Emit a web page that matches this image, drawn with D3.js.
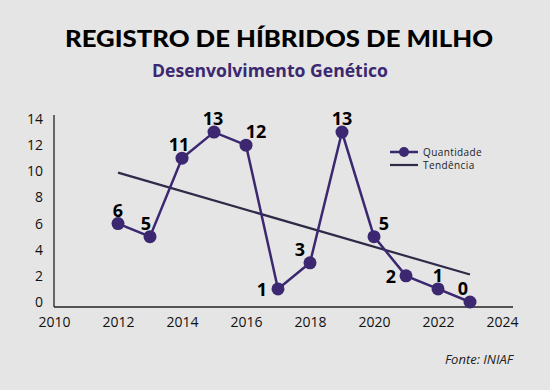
<!DOCTYPE html>
<html>
<head>
<meta charset="utf-8">
<script src="https://cdn.jsdelivr.net/npm/d3@7"></script>
<style>
  body { margin: 0; background: #e5e5e5; }
  svg { display: block; }
</style>
</head>
<body>
<div id="chart"></div>
<script>
// data
var years = [2012, 2013, 2014, 2015, 2016, 2017, 2018, 2019, 2020, 2021, 2022, 2023];
var quantidade = [6, 5, 11, 13, 12, 1, 3, 13, 5, 2, 1, 0];
var trendYears = [2012, 2023];
var trendValues = [9.9, 2.1];
var xTicks = [2010, 2012, 2014, 2016, 2018, 2020, 2022, 2024];
var yTicks = [0, 2, 4, 6, 8, 10, 12, 14];

// label offsets (dx, dy) relative to each point
var labelOffsets = [[0, -14], [-4, -14], [-3, -14], [-1, -14], [10, -14], [-16, 0], [-10, -14], [0, -14], [10, -14], [-15, 0], [0, -14], [-7, -14]];

var width = 550, height = 390;
var purple = "#3b2870";

var svg = d3.select("#chart")
  .append("svg")
    .attr("width", width)
    .attr("height", height);

svg.append("rect")
  .attr("width", width).attr("height", height)
  .attr("fill", "#e5e5e5");

// titles
svg.append("text")
  .attr("x", 279).attr("y", 47)
  .attr("text-anchor", "middle")
  .attr("font-family", "Lato, sans-serif")
  .attr("font-weight", 900)
  .attr("font-size", 23)
  .attr("fill", "#000")
  .attr("textLength", 428)
  .attr("lengthAdjust", "spacingAndGlyphs")
  .text("REGISTRO DE HÍBRIDOS DE MILHO");

svg.append("text")
  .attr("x", 270).attr("y", 77)
  .attr("text-anchor", "middle")
  .attr("font-family", "'Open Sans', sans-serif")
  .attr("font-weight", 700)
  .attr("font-size", 17)
  .attr("fill", purple)
  .attr("textLength", 236)
  .attr("lengthAdjust", "spacingAndGlyphs")
  .text("Desenvolvimento Genético");

var x = d3.scaleLinear()
  .domain([2010, 2024])
  .range([54, 502]);

var y = d3.scaleLinear()
  .domain([0, 14])
  .range([302, 119]);

var tickFont = "'Open Sans', sans-serif";

// axes
var xAxis = svg.append("g")
  .attr("transform", "translate(0,307)")
  .call(d3.axisBottom(x).tickValues(xTicks).tickFormat(d3.format("d")).tickSize(0).tickPadding(10));
xAxis.select(".domain").attr("d", "M54,0H513").attr("stroke", "#222").attr("stroke-width", 1.3);
xAxis.selectAll("text").attr("font-family", tickFont).attr("font-size", 14).attr("fill", "#111");

var yAxis = svg.append("g")
  .attr("transform", "translate(54,0)")
  .call(d3.axisLeft(y).tickValues(yTicks).tickSize(0).tickPadding(11));
yAxis.select(".domain").attr("d", "M0,115V307").attr("stroke", "#222").attr("stroke-width", 1.3);
yAxis.selectAll("text").attr("font-family", tickFont).attr("font-size", 14).attr("fill", "#111");

// trend line
var trend = trendYears.map(function(d, i) { return [d, trendValues[i]]; });
svg.append("path")
  .datum(trend)
  .attr("fill", "none")
  .attr("stroke", "#2e2a48")
  .attr("stroke-width", 2.2)
  .attr("d", d3.line().x(function(d) { return x(d[0]); }).y(function(d) { return y(d[1]); }));

// series
var series = years.map(function(d, i) { return { year: d, value: quantidade[i], off: labelOffsets[i] }; });

svg.append("path")
  .datum(series)
  .attr("fill", "none")
  .attr("stroke", purple)
  .attr("stroke-width", 2.5)
  .attr("d", d3.line().x(function(d) { return x(d.year); }).y(function(d) { return y(d.value); }));

svg.selectAll("circle.pt")
  .data(series)
  .enter().append("circle")
    .attr("class", "pt")
    .attr("cx", function(d) { return x(d.year); })
    .attr("cy", function(d) { return y(d.value); })
    .attr("r", 6.5)
    .attr("fill", purple);

svg.selectAll("text.lbl")
  .data(series)
  .enter().append("text")
    .attr("class", "lbl")
    .attr("x", function(d) { return x(d.year) + d.off[0]; })
    .attr("y", function(d) { return y(d.value) + d.off[1]; })
    .attr("text-anchor", "middle")
    .attr("dominant-baseline", "central")
    .attr("font-family", tickFont)
    .attr("font-weight", 700)
    .attr("font-size", 18)
    .attr("fill", "#000")
    .text(function(d) { return d.value; });

// legend
var legend = svg.append("g").attr("transform", "translate(390,152)");
legend.append("line").attr("x1", 0).attr("x2", 28).attr("y1", 0).attr("y2", 0)
  .attr("stroke", purple).attr("stroke-width", 2.5);
legend.append("circle").attr("cx", 14).attr("cy", 0).attr("r", 5).attr("fill", purple);
legend.append("text").attr("x", 33).attr("y", 0).attr("dominant-baseline", "central")
  .attr("font-family", tickFont).attr("font-size", 10).attr("fill", "#222")
  .attr("letter-spacing", 0.4)
  .text("Quantidade");
legend.append("line").attr("x1", 0).attr("x2", 28).attr("y1", 13).attr("y2", 13)
  .attr("stroke", "#2e2a48").attr("stroke-width", 2.2);
legend.append("text").attr("x", 33).attr("y", 13).attr("dominant-baseline", "central")
  .attr("font-family", tickFont).attr("font-size", 10).attr("fill", "#222")
  .attr("letter-spacing", 0.4)
  .text("Tendência");

// source
svg.append("text")
  .attr("x", 513).attr("y", 364)
  .attr("text-anchor", "end")
  .attr("font-family", tickFont)
  .attr("font-style", "italic")
  .attr("font-size", 13)
  .attr("fill", "#222")
  .text("Fonte: INIAF");
</script>
</body>
</html>
